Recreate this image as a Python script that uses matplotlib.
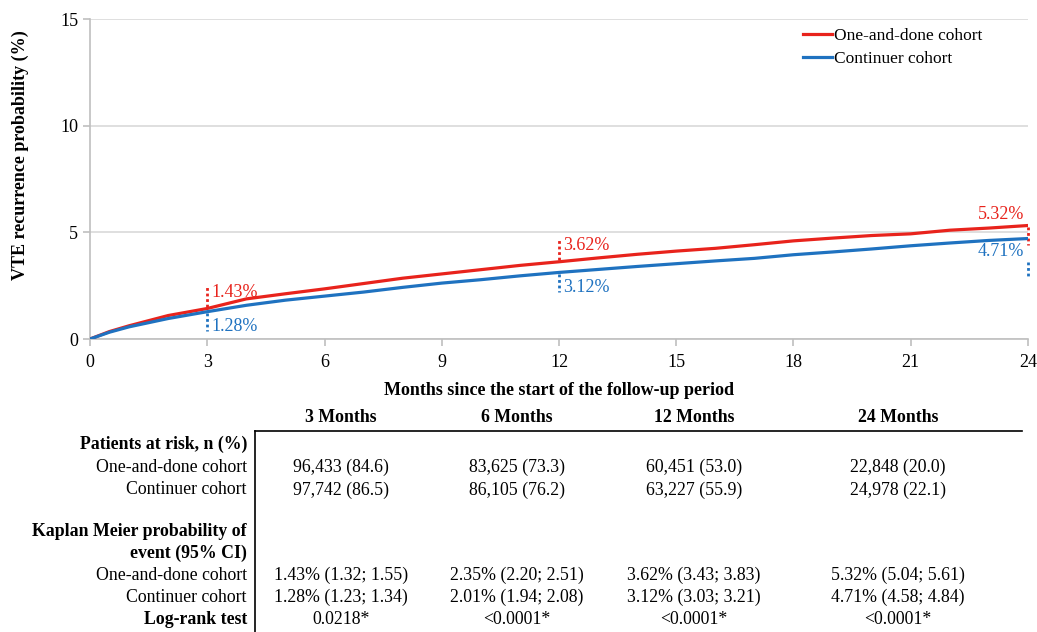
import numpy as np
import matplotlib
matplotlib.use("Agg")
import matplotlib.pyplot as plt

# ==============================
# DATA
# ==============================

months = [0, 0.5, 1, 2, 3, 4, 5, 6, 7, 8, 9, 10, 11, 12, 13, 14, 15, 16, 17, 18, 19, 20, 21, 22, 23, 24]
one_and_done = [0, 0.35, 0.62, 1.1, 1.43, 1.88, 2.12, 2.35, 2.6, 2.85, 3.05, 3.25, 3.45, 3.62,
                3.8, 3.97, 4.12, 4.25, 4.42, 4.6, 4.73, 4.85, 4.93, 5.1, 5.2, 5.32]
continuer = [0, 0.32, 0.57, 0.96, 1.28, 1.58, 1.82, 2.01, 2.2, 2.42, 2.62, 2.78, 2.96, 3.12,
             3.26, 3.4, 3.53, 3.66, 3.78, 3.95, 4.08, 4.22, 4.37, 4.5, 4.62, 4.71]

# annotated time points: (month, red value, blue value)
ann_months = [3, 12, 24]
ann_red = [1.43, 3.62, 5.32]
ann_blue = [1.28, 3.12, 4.71]

col_headers = ["3 Months", "6 Months", "12 Months", "24 Months"]
risk_one = ["96,433 (84.6)", "83,625 (73.3)", "60,451 (53.0)", "22,848 (20.0)"]
risk_cont = ["97,742 (86.5)", "86,105 (76.2)", "63,227 (55.9)", "24,978 (22.1)"]
km_one = ["1.43% (1.32; 1.55)", "2.35% (2.20; 2.51)", "3.62% (3.43; 3.83)", "5.32% (5.04; 5.61)"]
km_cont = ["1.28% (1.23; 1.34)", "2.01% (1.94; 2.08)", "3.12% (3.03; 3.21)", "4.71% (4.58; 4.84)"]
logrank = ["0.0218*", "<0.0001*", "<0.0001*", "<0.0001*"]

RED = "#E8231C"
BLUE = "#1F72C0"
plt.rcParams["font.family"] = ["Liberation Serif", "DejaVu Serif"]

fig = plt.figure(figsize=(10.37, 6.32), dpi=100)

# ==============================
# KM CURVES
# ==============================

ax = fig.add_axes([90 / 1037, 1 - 339 / 632, 938 / 1037, 320 / 632])
ax.plot(months, one_and_done, color=RED, lw=2.3, label="One-and-done cohort", zorder=3)
ax.plot(months, continuer, color=BLUE, lw=2.3, label="Continuer cohort", zorder=3)

ax.set_xlim(0, 24)
ax.set_ylim(0, 15)
ax.set_xticks(range(0, 25, 3))
ax.set_yticks([0, 5, 10, 15])
ax.grid(axis="y", color="#d9d9d9", lw=1.2)
ax.set_axisbelow(True)
for s in ["top", "right"]:
    ax.spines[s].set_visible(False)
for s in ["left", "bottom"]:
    ax.spines[s].set_color("#bfbfbf")
    ax.spines[s].set_linewidth(1.2)
ax.tick_params(colors="#bfbfbf", labelcolor="black", labelsize=13, length=5, width=1.2)
ax.tick_params(axis="x", pad=6)
ax.set_ylabel("VTE recurrence probability (%)", fontsize=13, fontweight="bold")
ax.yaxis.set_label_coords(-0.065, 0.575)
ax.set_xlabel("Months since the start of the follow-up period", fontsize=13, fontweight="bold", labelpad=8)

leg = ax.legend(loc="upper right", bbox_to_anchor=(0.968, 1.022), frameon=False, fontsize=12.5,
                handlelength=1.7, handletextpad=0.1, labelspacing=0.4)

# dotted markers and labels
for i, m in enumerate(ann_months):
    r, b = ann_red[i], ann_blue[i]
    if m < 24:
        ax.plot([m, m], [r + 0.08, r + 1.1], color=RED, ls=(0, (1, 1)), lw=2)
        ax.plot([m, m], [b - 0.05, b - 0.9], color=BLUE, ls=(0, (1, 1)), lw=2)
        ax.text(m + 0.1, r + 0.75, f"{r:.2f}%", color=RED, fontsize=13, va="center", ha="left")
        ax.text(m + 0.1, b - 0.7, f"{b:.2f}%", color=BLUE, fontsize=13, va="center", ha="left")
    else:
        ax.plot([m, m], [r - 0.06, r - 0.9], color=RED, ls=(0, (1, 1)), lw=2, clip_on=False)
        ax.plot([m, m], [b - 1.1, b - 1.8], color=BLUE, ls=(0, (1, 1)), lw=2, clip_on=False)
        ax.text(m - 0.1, r + 0.5, f"{r:.2f}%", color=RED, fontsize=13, va="center", ha="right")
        ax.text(m - 0.1, b - 0.62, f"{b:.2f}%", color=BLUE, fontsize=13, va="center", ha="right")

# ==============================
# TABLE BELOW
# ==============================

tb = fig.add_axes([0, 0, 1, 1], zorder=-1)
tb.set_xlim(0, 1037)
tb.set_ylim(632, 0)
tb.axis("off")

col_x = [341, 517, 694, 898]
label_x = 247
fs = 12.8

tb.plot([255, 1022], [431, 431], color="black", lw=1.2)
tb.plot([255, 255], [431, 632], color="black", lw=1.2)

for x, h in zip(col_x, col_headers):
    tb.text(x, 418, h, ha="center", va="center", fontsize=fs, fontweight="bold")

rows = [
    ("Patients at risk, n (%)", True, 444, None),
    ("One-and-done cohort", False, 467, risk_one),
    ("Continuer cohort", False, 490, risk_cont),
    ("Kaplan Meier probability of", True, 531, None),
    ("event (95% CI)", True, 553, None),
    ("One-and-done cohort", False, 575, km_one),
    ("Continuer cohort", False, 597, km_cont),
    ("Log-rank test", True, 619, logrank),
]
for label, bold, y, vals in rows:
    tb.text(label_x, y, label, ha="right", va="center", fontsize=fs,
            fontweight="bold" if bold else "normal")
    if vals is not None:
        for x, v in zip(col_x, vals):
            tb.text(x, y, v, ha="center", va="center", fontsize=fs)

fig.savefig("out.png", dpi=100)
